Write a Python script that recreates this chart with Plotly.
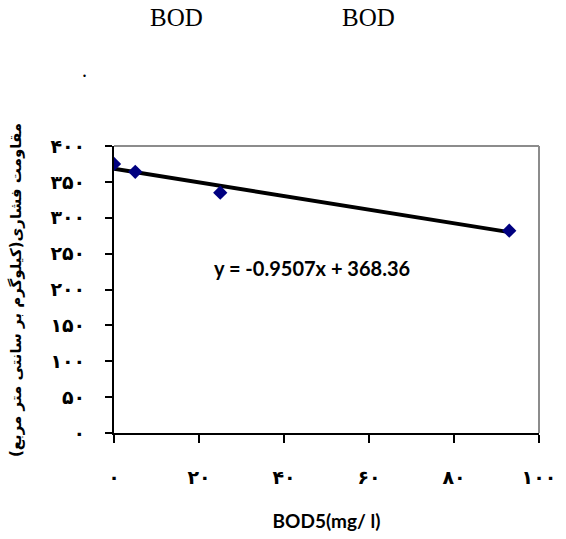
import plotly.graph_objects as go

# ---- data ----
bod5 = [0, 5, 25, 93]
strength = [375, 364, 335, 282]
slope = -0.9507
intercept = 368.36
x_ticks = [0, 20, 40, 60, 80, 100]
x_tick_labels = ["۰", "۲۰", "۴۰", "۶۰", "۸۰", "۱۰۰"]
y_ticks = [0, 50, 100, 150, 200, 250, 300, 350, 400]
y_tick_labels = ["۰", "۵۰", "۱۰۰", "۱۵۰", "۲۰۰", "۲۵۰", "۳۰۰", "۳۵۰", "۴۰۰"]
equation_text = "y = -0.9507x + 368.36"
x_title = "BOD5(mg/ l)"
y_title = "مقاومت فشاری(کیلوگرم بر سانتی متر مربع)"
header_words = ["BOD", "BOD"]

W, H = 566, 539
L, R, T, B = 114, 539, 146, 433

def px_x(p):
    return (p - L) / (R - L)

def px_y(p):
    return (B - p) / (B - T)

trend_x = [min(bod5), max(bod5)]
trend_y = [slope * v + intercept for v in trend_x]

fig = go.Figure()
fig.add_trace(go.Scatter(
    x=trend_x, y=trend_y, mode="lines",
    line=dict(color="black", width=4), hoverinfo="skip", showlegend=False))
fig.add_trace(go.Scatter(
    x=bod5, y=strength, mode="markers",
    marker=dict(symbol="diamond", size=11, color="#000080",
                line=dict(width=0)),
    showlegend=False))

tick_font = dict(family="DejaVu Sans", size=19, color="black", weight="bold")

fig.update_layout(
    width=W, height=H,
    margin=dict(l=L, r=W - R, t=T, b=H - B, autoexpand=False),
    paper_bgcolor="white", plot_bgcolor="white",
    showlegend=False,
    xaxis=dict(
        range=[0, 100], tickvals=x_ticks, ticktext=x_tick_labels,
        showgrid=False, zeroline=False, showline=True, linecolor="black",
        linewidth=2, ticks="outside", ticklen=8, tickwidth=2, tickcolor="black",
        tickfont=tick_font, ticklabelstandoff=18, automargin=False,
        title=dict(text=x_title, standoff=28,
                   font=dict(family="Lato", size=19, color="black", weight="bold")),
    ),
    yaxis=dict(
        range=[0, 400], tickvals=y_ticks, ticktext=y_tick_labels,
        showgrid=False, zeroline=False, showline=True, linecolor="black",
        linewidth=2, ticks="outside", ticklen=7, tickwidth=2, tickcolor="black",
        tickfont=tick_font, ticklabelstandoff=16, automargin=False,
    ),
    shapes=[
        dict(type="line", xref="paper", yref="paper", x0=0, x1=1, y0=1, y1=1,
             line=dict(color="#8c8c8c", width=2)),
        dict(type="line", xref="paper", yref="paper", x0=1, x1=1, y0=0, y1=1,
             line=dict(color="#8c8c8c", width=2)),
    ],
    annotations=[
        dict(text=header_words[0], xref="paper", yref="paper",
             x=px_x(176.5), y=px_y(18), xanchor="center", yanchor="middle",
             showarrow=False,
             font=dict(family="Liberation Serif", size=25, color="black")),
        dict(text=header_words[1], xref="paper", yref="paper",
             x=px_x(368.5), y=px_y(18), xanchor="center", yanchor="middle",
             showarrow=False,
             font=dict(family="Liberation Serif", size=25, color="black")),
        dict(text=".", xref="paper", yref="paper",
             x=px_x(84), y=px_y(70), xanchor="center", yanchor="middle",
             showarrow=False,
             font=dict(family="Liberation Serif", size=20, color="black")),
        dict(text=equation_text, xref="paper", yref="paper",
             x=px_x(312), y=px_y(268), xanchor="center", yanchor="middle",
             showarrow=False,
             font=dict(family="Lato", size=20, color="black", weight="bold")),
        dict(text=y_title, xref="paper", yref="paper",
             x=px_x(16), y=px_y(290), xanchor="center", yanchor="middle",
             textangle=-90, showarrow=False,
             font=dict(family="DejaVu Sans", size=15, color="black", weight="bold")),
    ],
)

fig.write_html("out.html",
               config={"displayModeBar": False},
               post_script="document.body.style.margin='0px';")
